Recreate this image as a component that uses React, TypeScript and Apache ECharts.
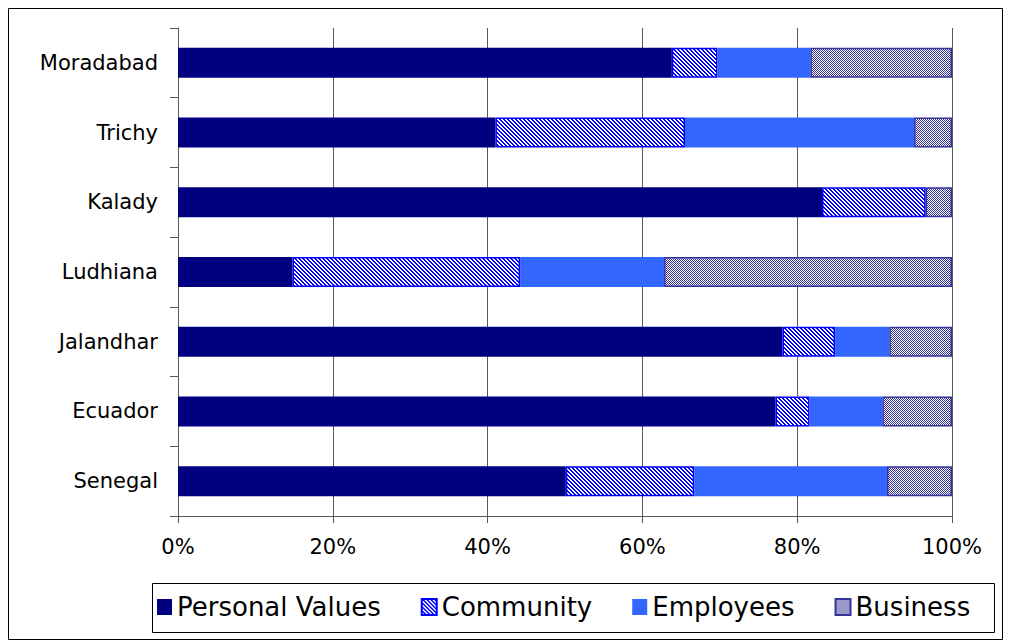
import React, { useEffect, useRef } from "react";
import * as echarts from "echarts";

const categories = ["Moradabad", "Trichy", "Kalady", "Ludhiana", "Jalandhar", "Ecuador", "Senegal"];
const personalValues = [63.8, 41.0, 83.2, 14.8, 78.1, 77.2, 50.1];
const community = [5.9, 24.5, 13.4, 29.4, 6.8, 4.4, 16.6];
const employees = [12.0, 29.6, 0, 18.6, 7.0, 9.4, 24.9];
const business = [18.3, 4.9, 3.4, 37.2, 8.1, 9.0, 8.4];
const xTicks = [0, 20, 40, 60, 80, 100];

function makeHatch(): HTMLCanvasElement {
  const c = document.createElement("canvas");
  c.width = 4;
  c.height = 4;
  const ctx = c.getContext("2d")!;
  ctx.fillStyle = "#ffffff";
  ctx.fillRect(0, 0, 4, 4);
  ctx.fillStyle = "#0000ff";
  for (let y = 0; y < 4; y++) {
    for (let x = 0; x < 4; x++) {
      if ((((x - y) % 4) + 4) % 4 < 2) ctx.fillRect(x, y, 1, 1);
    }
  }
  return c;
}

function makeDots(): HTMLCanvasElement {
  const c = document.createElement("canvas");
  c.width = 2;
  c.height = 2;
  const ctx = c.getContext("2d")!;
  ctx.fillStyle = "#ffffff";
  ctx.fillRect(0, 0, 2, 2);
  ctx.fillStyle = "#333399";
  ctx.fillRect(0, 0, 1, 1);
  ctx.fillRect(1, 1, 1, 1);
  return c;
}

export default function App() {
  const ref = useRef<HTMLDivElement>(null);
  useEffect(() => {
    if (!ref.current) return;
    const chart = echarts.init(ref.current, null, { renderer: "svg" });
    const hatch = { image: makeHatch(), repeat: "repeat" };
    const dots = { image: makeDots(), repeat: "repeat" };
    const font = "DejaVu Sans";
    const axisColor = "#5a5a5a";
    chart.setOption({
      animation: false,
      backgroundColor: "#ffffff",
      grid: { left: 178, right: 59, top: 28, bottom: 128, containLabel: false },
      xAxis: {
        type: "value",
        min: xTicks[0],
        max: xTicks[xTicks.length - 1],
        interval: 20,
        axisLine: { show: true, lineStyle: { color: axisColor, width: 1 } },
        axisTick: { show: true, length: 7, lineStyle: { color: axisColor } },
        splitLine: { show: true, lineStyle: { color: axisColor, width: 1 } },
        axisLabel: {
          formatter: "{value}%",
          fontSize: 21,
          fontFamily: font,
          color: "#000",
          margin: 20,
        },
      },
      yAxis: {
        type: "category",
        data: categories,
        inverse: true,
        axisLine: { show: true, lineStyle: { color: axisColor, width: 1 } },
        axisTick: { show: true, length: 8, lineStyle: { color: axisColor } },
        axisLabel: { fontSize: 21, fontFamily: font, color: "#000", margin: 20 },
        splitLine: { show: false },
      },
      legend: {
        data: ["Personal Values", "Community", "Employees", "Business"],
        left: 152,
        top: 589,
        itemWidth: 15,
        itemHeight: 16,
        itemGap: 40,
        icon: "rect",
        selectedMode: false,
        textStyle: { fontSize: 26, fontFamily: font, color: "#000" },
      },
      graphic: [
        {
          type: "rect",
          shape: { x: 8.5, y: 8.5, width: 994, height: 631 },
          style: { fill: "none", stroke: "#000", lineWidth: 1 },
          silent: true,
        },
        {
          type: "rect",
          shape: { x: 152.5, y: 583.5, width: 842, height: 49 },
          style: { fill: "none", stroke: "#000", lineWidth: 1 },
          silent: true,
        },
      ],
      series: [
        {
          name: "Personal Values",
          type: "bar",
          stack: "total",
          barWidth: 30,
          data: personalValues,
          itemStyle: { color: "#000080" },
        },
        {
          name: "Community",
          type: "bar",
          stack: "total",
          barWidth: 30,
          data: community,
          itemStyle: { color: hatch, borderColor: "#0000ff", borderWidth: 1.5 },
        },
        {
          name: "Employees",
          type: "bar",
          stack: "total",
          barWidth: 30,
          data: employees,
          itemStyle: { color: "#3366ff" },
        },
        {
          name: "Business",
          type: "bar",
          stack: "total",
          barWidth: 30,
          data: business,
          itemStyle: { color: dots, borderColor: "#333399", borderWidth: 1.5 },
        },
      ],
    });
    return () => chart.dispose();
  }, []);
  return (
    <div
      ref={ref}
      style={{ position: "absolute", left: 0, top: 0, width: 1011, height: 644 }}
    />
  );
}
